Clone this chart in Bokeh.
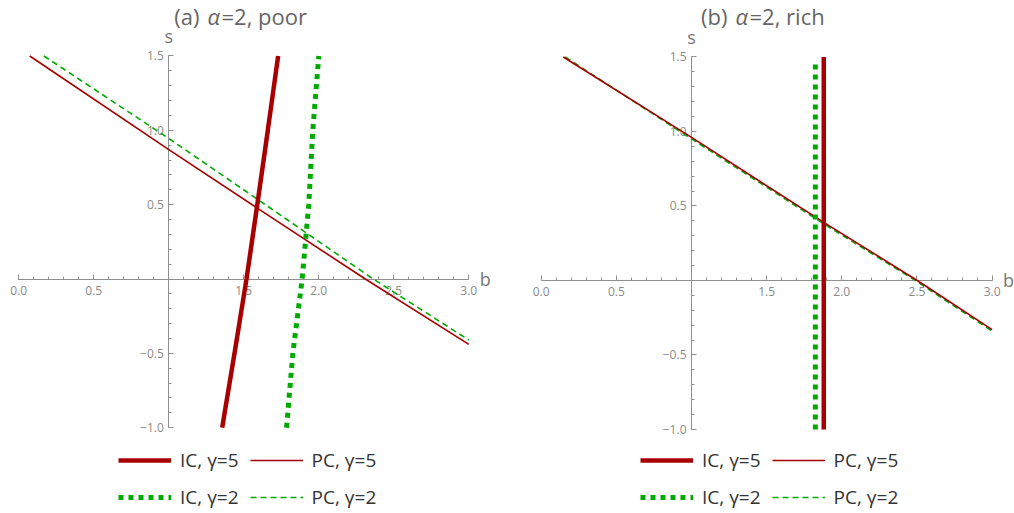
from bokeh.plotting import figure
from bokeh.layouts import row
from bokeh.models import FixedTicker, Label, Legend, LegendItem, Range1d
from bokeh.embed import file_html
from bokeh.resources import INLINE

# ---------------- data ----------------
# Panel (a): alpha = 2, poor
poor_ic5_b = [1.356, 1.438, 1.518, 1.59, 1.66, 1.729]
poor_ic5_s = [-1.0, -0.5, 0.0, 0.5, 1.0, 1.5]
poor_pc5_b = [0.073, 1.0, 1.6, 2.31, 3.0]
poor_pc5_s = [1.5, 0.87, 0.47, 0.0, -0.44]
poor_ic2_b = [1.785, 1.827, 1.889, 1.933, 1.96, 2.0]
poor_ic2_s = [-1.0, -0.5, 0.0, 0.5, 1.0, 1.5]
poor_pc2_b = [0.167, 1.0, 1.6, 2.363, 3.0]
poor_pc2_s = [1.5, 0.945, 0.53, 0.0, -0.41]

# Panel (b): alpha = 2, rich
rich_ic5_b = [1.88, 1.88]
rich_ic5_s = [-1.0, 1.5]
rich_pc5_b = [0.147, 1.0, 1.88, 2.502, 3.0]
rich_pc5_s = [1.5, 0.96, 0.39, 0.0, -0.33]
rich_ic2_b = [1.824, 1.824]
rich_ic2_s = [-1.0, 1.46]
rich_pc2_b = [0.16, 1.0, 1.88, 2.49, 3.0]
rich_pc2_s = [1.5, 0.95, 0.38, 0.0, -0.34]

# ticks
x_ticks = [0.0, 0.5, 1.5, 2.0, 2.5, 3.0]
x_tick_labels = ["0.0", "0.5", "1.5", "2.0", "2.5", "3.0"]
y_ticks = [-1.0, -0.5, 0.5, 1.0, 1.5]
y_tick_labels = ["\u22121.0", "\u22120.5", "0.5", "1.0", "1.5"]
x_minor = [i / 10 for i in range(0, 31)]
y_minor = [i / 10 for i in range(-10, 16)]

legend_labels = ["IC, \u03b3=5", "PC, \u03b3=5", "IC, \u03b3=2", "PC, \u03b3=2"]

DARK_RED = "#a80000"
GREEN = "#00aa00"
AXIS_GRAY = "#8f8f8f"
FONT = "Open Sans"


def make_panel(letter, tag, curves, xr, yr, alpha_x, title_dy, legend_x, b_offset):
    p = figure(width=507, height=513, output_backend="svg", toolbar_location=None,
               x_range=Range1d(*xr), y_range=Range1d(*yr),
               min_border_left=0, min_border_right=0,
               min_border_top=0, min_border_bottom=0)
    p.outline_line_color = None
    p.grid.visible = False
    p.background_fill_color = "white"
    p.border_fill_color = "white"

    p.xaxis.fixed_location = 0
    p.yaxis.fixed_location = 1.0
    p.xaxis.bounds = (0, 3)
    p.yaxis.bounds = (-1, 1.5)
    p.xaxis.ticker = FixedTicker(ticks=x_ticks, minor_ticks=x_minor)
    p.yaxis.ticker = FixedTicker(ticks=y_ticks, minor_ticks=y_minor)
    p.xaxis.major_label_overrides = dict(zip(x_ticks, x_tick_labels))
    p.yaxis.major_label_overrides = dict(zip(y_ticks, y_tick_labels))
    for ax in (p.xaxis, p.yaxis):
        ax.axis_line_color = AXIS_GRAY
        ax.major_tick_line_color = AXIS_GRAY
        ax.minor_tick_line_color = AXIS_GRAY
        ax.major_tick_in = 5
        ax.major_tick_out = 0
        ax.minor_tick_in = 3
        ax.minor_tick_out = 0
        ax.major_label_text_font = FONT
        ax.major_label_text_font_size = "12px"
        ax.major_label_text_color = "#8a8a8a"
        ax.level = "underlay"
    p.xaxis.major_label_standoff = 7
    p.yaxis.major_label_standoff = 5

    (ic5_b, ic5_s), (pc5_b, pc5_s), (ic2_b, ic2_s), (pc2_b, pc2_s) = curves
    r_pc2 = p.line(pc2_b, pc2_s, line_color=GREEN, line_width=1.6, line_dash="6 4")
    r_pc5 = p.line(pc5_b, pc5_s, line_color=DARK_RED, line_width=1.6)
    r_ic2 = p.line(ic2_b, ic2_s, line_color=GREEN, line_width=5, line_dash="5 5", line_cap="butt")
    r_ic5 = p.line(ic5_b, ic5_s, line_color=DARK_RED, line_width=4.5)

    items = [LegendItem(label=legend_labels[0], renderers=[r_ic5]),
             LegendItem(label=legend_labels[1], renderers=[r_pc5]),
             LegendItem(label=legend_labels[2], renderers=[r_ic2]),
             LegendItem(label=legend_labels[3], renderers=[r_pc2])]
    legend = Legend(items=items, location=(legend_x, 3), orientation="horizontal", ncols=2,
                    glyph_width=53, glyph_height=26, label_standoff=9, spacing=11,
                    padding=0, margin=0, border_line_color=None, background_fill_alpha=0,
                    label_text_font=FONT, label_text_font_size="19px",
                    label_text_color="#333333", label_text_baseline="middle")
    p.add_layout(legend, "center")

    # title pieces
    p.add_layout(Label(x=alpha_x, y=1.5, x_offset=-8, y_offset=title_dy, text=letter,
                       text_align="right", text_baseline="middle", text_font=FONT,
                       text_font_size="22px", text_color="#666666"))
    p.add_layout(Label(x=alpha_x, y=1.5, y_offset=title_dy, text="\u03b1",
                       text_align="left", text_baseline="middle", text_font=FONT,
                       text_font_style="italic", text_font_size="22px", text_color="#666666"))
    p.add_layout(Label(x=alpha_x, y=1.5, x_offset=14, y_offset=title_dy, text=tag,
                       text_align="left", text_baseline="middle", text_font=FONT,
                       text_font_size="22px", text_color="#666666"))

    # axis names
    p.add_layout(Label(x=1.0, y=1.5, y_offset=20, text="s", text_align="center",
                       text_baseline="middle", text_font=FONT, text_font_size="18px",
                       text_color="#777777"))
    p.add_layout(Label(x=3.0, y=0.0, x_offset=b_offset, text="b", text_align="left",
                       text_baseline="middle", text_font=FONT, text_font_size="18px",
                       text_color="#777777"))
    return p


left = make_panel("(a)", "=2, poor",
                  [(poor_ic5_b, poor_ic5_s), (poor_pc5_b, poor_pc5_s),
                   (poor_ic2_b, poor_ic2_s), (poor_pc2_b, poor_pc2_s)],
                  (-0.122, 3.258), (-1.577, 1.873),
                  alpha_x=1.258, title_dy=40, legend_x=118, b_offset=11)
right = make_panel("(b)", "=2, rich",
                   [(rich_ic5_b, rich_ic5_s), (rich_pc5_b, rich_pc5_s),
                    (rich_ic2_b, rich_ic2_s), (rich_pc2_b, rich_pc2_s)],
                   (-0.2242, 3.149), (-1.564, 1.879),
                   alpha_x=1.293, title_dy=41, legend_x=133, b_offset=11)

layout = row(left, right)
open("out.html", "w").write(file_html(layout, INLINE))
